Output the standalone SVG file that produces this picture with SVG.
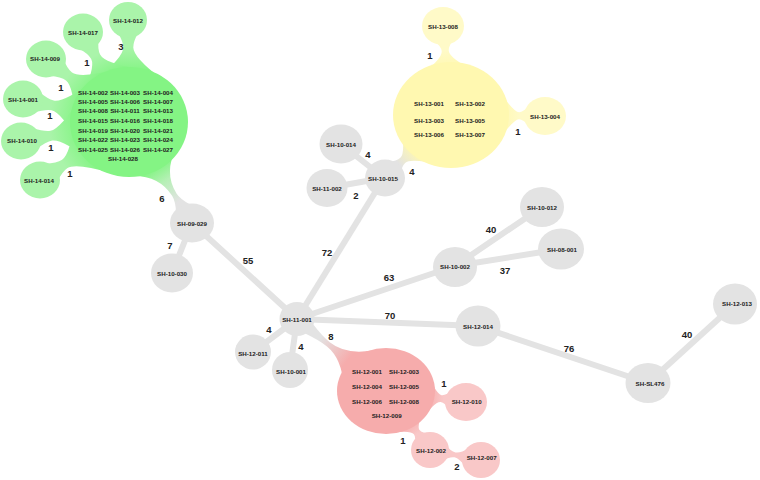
<svg xmlns="http://www.w3.org/2000/svg" width="760" height="480" viewBox="0 0 760 480">
<defs>
<linearGradient id="ngG" x1="0" y1="0" x2="1" y2="0"><stop offset="0.3" stop-color="#aaf4aa"/><stop offset="0.85" stop-color="#84f484"/></linearGradient>
<linearGradient id="ngY" x1="0" y1="0" x2="1" y2="0"><stop offset="0.3" stop-color="#fffac8"/><stop offset="0.85" stop-color="#fff8b0"/></linearGradient>
<linearGradient id="ngP" x1="0" y1="0" x2="1" y2="0"><stop offset="0.3" stop-color="#f9c8c8"/><stop offset="0.85" stop-color="#f6acac"/></linearGradient>
<linearGradient id="tG" x1="0" y1="0" x2="1" y2="0"><stop offset="0.15" stop-color="#e3e3e3"/><stop offset="0.6" stop-color="#b5f0b5"/><stop offset="0.9" stop-color="#84f484"/></linearGradient>
<linearGradient id="tY" x1="0" y1="0" x2="1" y2="0"><stop offset="0.15" stop-color="#e3e3e3"/><stop offset="0.75" stop-color="#fff8b0"/></linearGradient>
<linearGradient id="tP" x1="0" y1="0" x2="1" y2="0"><stop offset="0.25" stop-color="#e3e3e3"/><stop offset="0.8" stop-color="#f6acac"/></linearGradient>
</defs>
<style>
.ln{stroke:#e3e3e3;stroke-width:6;stroke-linecap:round;fill:none}
.gr{fill:#e3e3e3}
.g1{fill:#84f484}.g2{fill:#aaf4aa}
.y1{fill:#fff8b0}.y2{fill:#fffac8}
.p1{fill:#f6acac}.p2{fill:#f9c8c8}
.t{font-family:"Liberation Sans",Arial,sans-serif;font-size:6.2px;font-weight:bold;fill:#222;text-anchor:middle;dominant-baseline:central}
.e{font-family:"Liberation Sans",Arial,sans-serif;font-size:9.5px;font-weight:bold;fill:#222;text-anchor:middle;dominant-baseline:central}
</style>
<rect width="760" height="480" fill="#ffffff"/>
<g id="connectors">
<line class="ln" x1="192" y1="223" x2="297" y2="319"/>
<line class="ln" x1="192" y1="223" x2="172" y2="273"/>
<line class="ln" x1="384" y1="178" x2="297" y2="319"/>
<line class="ln" x1="384" y1="178" x2="341" y2="144"/>
<line class="ln" x1="384" y1="178" x2="327" y2="188"/>
<line class="ln" x1="297" y1="319" x2="455" y2="266"/>
<line class="ln" x1="455" y1="266" x2="542" y2="207"/>
<line class="ln" x1="455" y1="266" x2="561" y2="249"/>
<line class="ln" x1="297" y1="319" x2="478" y2="326"/>
<line class="ln" x1="478" y1="326" x2="648" y2="383"/>
<line class="ln" x1="648" y1="383" x2="735" y2="304"/>
<line class="ln" x1="297" y1="319" x2="253" y2="352"/>
<line class="ln" x1="297" y1="319" x2="290" y2="370"/>
<path fill="url(#ngG)" transform="translate(128,20) rotate(89.4)" d="M12.4,10.4Q21.5,5 27.5,5Q37.5,5 59.4,33.2L59.4,-33.2Q37.5,-5 27.5,-5Q21.5,-5 12.4,-10.4Z"/>
<path fill="url(#ngG)" transform="translate(83,32) rotate(62.9)" d="M13.1,11Q21.8,5 27.8,5Q37.8,5 58.5,33.2L58.5,-33.2Q37.8,-5 27.8,-5Q21.8,-5 13.1,-11Z"/>
<path fill="url(#ngG)" transform="translate(46,59) rotate(37.2)" d="M13.1,11Q22.9,5 28.9,5Q38.9,5 61.6,33.2L61.6,-33.2Q38.9,-5 28.9,-5Q22.9,-5 13.1,-11Z"/>
<path fill="url(#ngG)" transform="translate(23,99) rotate(12.2)" d="M13.1,11Q24.4,5 30.4,5Q40.4,5 65.9,33.2L65.9,-33.2Q40.4,-5 30.4,-5Q24.4,-5 13.1,-11Z"/>
<path fill="url(#ngG)" transform="translate(21,141) rotate(-10)" d="M13.1,11Q24.8,5 30.8,5Q40.8,5 67.1,33.2L67.1,-33.2Q40.8,-5 30.8,-5Q24.8,-5 13.1,-11Z"/>
<path fill="url(#ngG)" transform="translate(40,180) rotate(-33.1)" d="M13.1,11Q23.6,5 29.6,5Q39.6,5 63.6,33.2L63.6,-33.2Q39.6,-5 29.6,-5Q23.6,-5 13.1,-11Z"/>
<path fill="url(#tG)" transform="translate(192,223) rotate(-121.95)" d="M17.1,8Q27.3,2.5 33.3,2.5Q58.3,2.5 72.2,27L72.2,-27Q58.3,-2.5 33.3,-2.5Q27.3,-2.5 17.1,-8Z"/>
<path fill="url(#ngY)" transform="translate(443,26) rotate(84.9)" d="M13.1,11Q20.1,3.5 25.1,3.5Q33.1,3.5 49.7,31L49.7,-31Q33.1,-3.5 25.1,-3.5Q20.1,-3.5 13.1,-11Z"/>
<path fill="url(#ngY)" transform="translate(545,116) rotate(180.6)" d="M13.8,11.6Q22,3.5 26,3.5Q32,3.5 52.1,32.8L52.1,-32.8Q32,-3.5 26,-3.5Q22,-3.5 13.8,-11.6Z"/>
<path fill="url(#tY)" transform="translate(384,178) rotate(-43.2)" d="M14.8,8.55Q20.7,3.5 25.7,3.5Q33.7,3.5 51.6,31.6L51.6,-31.6Q33.7,-3.5 25.7,-3.5Q20.7,-3.5 14.8,-8.55Z"/>
<path fill="url(#ngP)" transform="translate(466,402) rotate(-172.2)" d="M13.1,11Q21.1,3.5 25.1,3.5Q31.1,3.5 44.8,28.1L44.8,-28.1Q31.1,-3.5 25.1,-3.5Q21.1,-3.5 13.1,-11Z"/>
<path fill="url(#ngP)" transform="translate(430,450) rotate(-126.7)" d="M12.4,10.4Q18.2,3.5 22.2,3.5Q28.2,3.5 39.9,26.3L39.9,-26.3Q28.2,-3.5 22.2,-3.5Q18.2,-3.5 12.4,-10.4Z"/>
<path class="p2" transform="translate(430,450) rotate(11.1)" d="M13.3,9.3Q20.5,2.5 25.5,2.5Q30.5,2.5 38,9.8L38,-9.8Q30.5,-2.5 25.5,-2.5Q20.5,-2.5 13.3,-9.3Z"/>
<path fill="url(#tP)" transform="translate(297,319) rotate(39)" d="M13.9,6.5Q30.6,2.5 40.6,2.5Q60,2.5 78.2,22.7L78.2,-22.7Q60,-2.5 40.6,-2.5Q30.6,-2.5 13.9,-6.5Z"/>
</g>
<g id="nodes">
<g id="cluster-SH-14"><ellipse class="g1" cx="129" cy="122" rx="59" ry="55"/>
<text class="t" x="93" y="92.3">SH-14-002</text><text class="t" x="125" y="92.3">SH-14-003</text><text class="t" x="158" y="92.3">SH-14-004</text>
<text class="t" x="93" y="101.7">SH-14-005</text><text class="t" x="125" y="101.7">SH-14-006</text><text class="t" x="158" y="101.7">SH-14-007</text>
<text class="t" x="93" y="110.7">SH-14-008</text><text class="t" x="125" y="110.7">SH-14-011</text><text class="t" x="158" y="110.7">SH-14-013</text>
<text class="t" x="93" y="120">SH-14-015</text><text class="t" x="125" y="120">SH-14-016</text><text class="t" x="158" y="120">SH-14-018</text>
<text class="t" x="93" y="130">SH-14-019</text><text class="t" x="125" y="130">SH-14-020</text><text class="t" x="158" y="130">SH-14-021</text>
<text class="t" x="93" y="139.3">SH-14-022</text><text class="t" x="125" y="139.3">SH-14-023</text><text class="t" x="158" y="139.3">SH-14-024</text>
<text class="t" x="93" y="149">SH-14-025</text><text class="t" x="125" y="149">SH-14-026</text><text class="t" x="158" y="149">SH-14-027</text>
<text class="t" x="123" y="158.3">SH-14-028</text></g>
<g id="SH-14-012"><ellipse class="g2" cx="128" cy="20" rx="19" ry="18"/><text class="t" x="128" y="20">SH-14-012</text></g>
<g id="SH-14-017"><ellipse class="g2" cx="83" cy="32" rx="20" ry="18.5"/><text class="t" x="83" y="32">SH-14-017</text></g>
<g id="SH-14-009"><ellipse class="g2" cx="46" cy="59" rx="20" ry="18.5"/><text class="t" x="45" y="58">SH-14-009</text></g>
<g id="SH-14-001"><ellipse class="g2" cx="23" cy="99" rx="20" ry="18.5"/><text class="t" x="23" y="99">SH-14-001</text></g>
<g id="SH-14-010"><ellipse class="g2" cx="21" cy="141" rx="20" ry="18.5"/><text class="t" x="22" y="140">SH-14-010</text></g>
<g id="SH-14-014"><ellipse class="g2" cx="40" cy="180" rx="20" ry="18.5"/><text class="t" x="39" y="180">SH-14-014</text></g>
<g id="cluster-SH-13"><ellipse class="y1" cx="451" cy="115" rx="58" ry="53"/>
<text class="t" x="429" y="103.5">SH-13-001</text><text class="t" x="470" y="103">SH-13-002</text>
<text class="t" x="429" y="120">SH-13-003</text><text class="t" x="470" y="120">SH-13-005</text>
<text class="t" x="429" y="134.5">SH-13-006</text><text class="t" x="470" y="134">SH-13-007</text></g>
<g id="SH-13-008"><ellipse class="y2" cx="443" cy="26" rx="21" ry="19"/><text class="t" x="443" y="26">SH-13-008</text></g>
<g id="SH-13-004"><ellipse class="y2" cx="545" cy="116" rx="21" ry="19"/><text class="t" x="545" y="116">SH-13-004</text></g>
<g id="cluster-SH-12"><ellipse class="p1" cx="386" cy="391" rx="49" ry="43"/>
<text class="t" x="367" y="371.7">SH-12-001</text><text class="t" x="404" y="371.7">SH-12-003</text>
<text class="t" x="367" y="386.7">SH-12-004</text><text class="t" x="404" y="386.7">SH-12-005</text>
<text class="t" x="367" y="401.7">SH-12-006</text><text class="t" x="404" y="401.7">SH-12-008</text>
<text class="t" x="386.7" y="415.7">SH-12-009</text></g>
<g id="SH-12-010"><ellipse class="p2" cx="466" cy="402" rx="21" ry="19"/><text class="t" x="466.7" y="401">SH-12-010</text></g>
<g id="SH-12-002"><ellipse class="p2" cx="430" cy="450" rx="19" ry="18"/><text class="t" x="431" y="450.7">SH-12-002</text></g>
<g id="SH-12-007"><ellipse class="p2" cx="481" cy="460" rx="19" ry="18"/><text class="t" x="481.7" y="457.7">SH-12-007</text></g>
<g id="SH-09-029"><ellipse class="gr" cx="192" cy="223" rx="22" ry="19.5"/><text class="t" x="192" y="223">SH-09-029</text></g>
<g id="SH-10-030"><ellipse class="gr" cx="172" cy="273" rx="21" ry="19.5"/><text class="t" x="172" y="273">SH-10-030</text></g>
<g id="SH-11-001"><ellipse class="gr" cx="297" cy="319" rx="17.5" ry="17"/><text class="t" x="297" y="319">SH-11-001</text></g>
<g id="SH-12-011"><ellipse class="gr" cx="253" cy="352" rx="18" ry="17.5"/><text class="t" x="253" y="353">SH-12-011</text></g>
<g id="SH-10-001"><ellipse class="gr" cx="290" cy="370" rx="18" ry="18"/><text class="t" x="291" y="371">SH-10-001</text></g>
<g id="SH-10-015"><ellipse class="gr" cx="385" cy="178" rx="20" ry="18.5"/><text class="t" x="383" y="178">SH-10-015</text></g>
<g id="SH-10-014"><ellipse class="gr" cx="341" cy="144" rx="21.5" ry="19.5"/><text class="t" x="341" y="144">SH-10-014</text></g>
<g id="SH-11-002"><ellipse class="gr" cx="327" cy="188" rx="20.5" ry="19"/><text class="t" x="327" y="188">SH-11-002</text></g>
<g id="SH-10-002"><ellipse class="gr" cx="455" cy="267" rx="22" ry="20"/><text class="t" x="455" y="266">SH-10-002</text></g>
<g id="SH-10-012"><ellipse class="gr" cx="542" cy="207" rx="22" ry="20"/><text class="t" x="542" y="207">SH-10-012</text></g>
<g id="SH-08-001"><ellipse class="gr" cx="561" cy="249" rx="23" ry="20.5"/><text class="t" x="562" y="249">SH-08-001</text></g>
<g id="SH-12-014"><ellipse class="gr" cx="478" cy="326" rx="22.5" ry="20.5"/><text class="t" x="478" y="326">SH-12-014</text></g>
<g id="SH-SL476"><ellipse class="gr" cx="648" cy="383" rx="22.5" ry="20"/><text class="t" x="650" y="383">SH-SL476</text></g>
<g id="SH-12-013"><ellipse class="gr" cx="735" cy="304" rx="22" ry="20.5"/><text class="t" x="737" y="303">SH-12-013</text></g>
</g>
<g id="edge-labels">
<text class="e" x="121" y="46">3</text><text class="e" x="87" y="62">1</text><text class="e" x="61" y="87">1</text>
<text class="e" x="50" y="115">1</text><text class="e" x="51" y="147">1</text><text class="e" x="70" y="173">1</text>
<text class="e" x="162" y="198">6</text><text class="e" x="170" y="245">7</text><text class="e" x="248" y="260">55</text>
<text class="e" x="327" y="252">72</text><text class="e" x="389" y="277">63</text><text class="e" x="390" y="315">70</text>
<text class="e" x="331" y="336">8</text><text class="e" x="269" y="329">4</text><text class="e" x="301" y="346">4</text>
<text class="e" x="430" y="55">1</text><text class="e" x="518" y="131">1</text><text class="e" x="412" y="171">4</text>
<text class="e" x="368" y="154">4</text><text class="e" x="356" y="195">2</text>
<text class="e" x="491" y="229">40</text><text class="e" x="505" y="270">37</text><text class="e" x="569" y="348">76</text><text class="e" x="687" y="334">40</text>
<text class="e" x="444" y="383">1</text><text class="e" x="403" y="440">1</text><text class="e" x="457" y="466">2</text>
</g>
</svg>
